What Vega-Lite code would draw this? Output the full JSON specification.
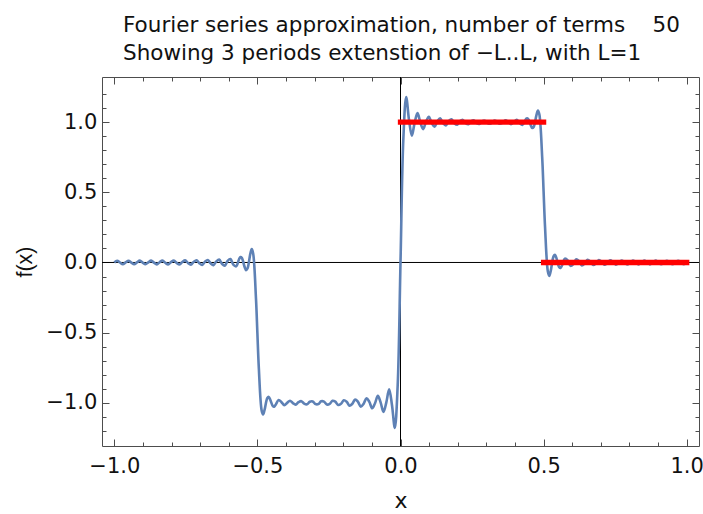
{
  "$schema": "https://vega.github.io/schema/vega-lite/v6.json",
  "width": 597,
  "height": 369,
  "autosize": "none",
  "padding": {"left": 102, "top": 77, "right": 4, "bottom": 68},
  "background": "white",
  "config": {
    "view": {"stroke": null},
    "axis": {
      "grid": false,
      "domainColor": "#4d4d4d",
      "domainWidth": 1,
      "tickColor": "#4d4d4d",
      "tickWidth": 1,
      "labelFont": "DejaVu Sans",
      "labelFontSize": 21,
      "labelColor": "#111111",
      "labelOverlap": false,
      "labelFlush": false,
      "titleFont": "DejaVu Sans",
      "titleFontSize": 22,
      "titleFontWeight": "normal",
      "titleColor": "#111111"
    }
  },
  "title": {
    "text": ["Fourier series approximation, number of terms\u00a0\u00a0\u00a0\u00a050", "Showing 3 periods extenstion of \u2212L..L, with L=1"],
    "font": "DejaVu Sans",
    "fontSize": 21.5,
    "fontWeight": "normal",
    "color": "#111111",
    "anchor": "start",
    "align": "left",
    "frame": "group",
    "dx": 21,
    "offset": 12,
    "lineHeight": 28
  },
  "resolve": {"axis": {"x": "independent", "y": "independent"}},
  "layer": [
    {
      "data": {"values": [{"x": 0}]},
      "mark": {"type": "rule", "color": "black", "strokeWidth": 1},
      "encoding": {
        "x": {"field": "x", "type": "quantitative", "scale": {"domain": [-1.043, 1.043], "nice": false, "zero": false}, "axis": null}
      }
    },
    {
      "data": {"values": [{"y": 0}]},
      "mark": {"type": "rule", "color": "black", "strokeWidth": 1},
      "encoding": {
        "y": {"field": "y", "type": "quantitative", "scale": {"domain": [-1.308, 1.322], "nice": false, "zero": false}, "axis": null}
      }
    },
    {
      "data": {"values": [
        {"x": -1, "y": 0}, {"x": -0.9901, "y": 0.0126}, {"x": -0.9802, "y": -0.0002}, {"x": -0.9703, "y": -0.0126},
        {"x": -0.9604, "y": 0.0004}, {"x": -0.9505, "y": 0.0127}, {"x": -0.9406, "y": -0.0006}, {"x": -0.9307, "y": -0.0128},
        {"x": -0.9208, "y": 0.0008}, {"x": -0.9109, "y": 0.0129}, {"x": -0.901, "y": -0.001}, {"x": -0.8911, "y": -0.013},
        {"x": -0.8812, "y": 0.0013}, {"x": -0.8713, "y": 0.0132}, {"x": -0.8614, "y": -0.0015}, {"x": -0.8515, "y": -0.0133},
        {"x": -0.8416, "y": 0.0018}, {"x": -0.8317, "y": 0.0136}, {"x": -0.8218, "y": -0.0021}, {"x": -0.8119, "y": -0.0139},
        {"x": -0.802, "y": 0.0024}, {"x": -0.7921, "y": 0.0142}, {"x": -0.7822, "y": -0.0027}, {"x": -0.7723, "y": -0.0146},
        {"x": -0.7624, "y": 0.0031}, {"x": -0.7525, "y": 0.015}, {"x": -0.7426, "y": -0.0036}, {"x": -0.7327, "y": -0.0155},
        {"x": -0.7228, "y": 0.0041}, {"x": -0.7129, "y": 0.0162}, {"x": -0.703, "y": -0.0048}, {"x": -0.6931, "y": -0.0169},
        {"x": -0.6832, "y": 0.0055}, {"x": -0.6733, "y": 0.0178}, {"x": -0.6634, "y": -0.0065}, {"x": -0.6535, "y": -0.019},
        {"x": -0.6436, "y": 0.0077}, {"x": -0.6337, "y": 0.0205}, {"x": -0.6238, "y": -0.0093}, {"x": -0.6139, "y": -0.0225},
        {"x": -0.604, "y": 0.0114}, {"x": -0.5941, "y": 0.024}, {"x": -0.5842, "y": -0.0157}, {"x": -0.5743, "y": -0.0276},
        {"x": -0.5644, "y": 0.0214}, {"x": -0.5594, "y": 0.0389}, {"x": -0.5545, "y": 0.0331}, {"x": -0.5446, "y": -0.0326},
        {"x": -0.5396, "y": -0.0545}, {"x": -0.5347, "y": -0.0431}, {"x": -0.5248, "y": 0.0617}, {"x": -0.5198, "y": 0.0956},
        {"x": -0.5149, "y": 0.0647}, {"x": -0.505, "y": -0.2562}, {"x": -0.5, "y": -0.5063}, {"x": -0.495, "y": -0.7528},
        {"x": -0.4851, "y": -1.056}, {"x": -0.4802, "y": -1.083}, {"x": -0.4752, "y": -1.0524}, {"x": -0.4653, "y": -0.9654},
        {"x": -0.4604, "y": -0.9582}, {"x": -0.4554, "y": -0.977}, {"x": -0.4455, "y": -1.0248}, {"x": -0.4406, "y": -1.0261},
        {"x": -0.4356, "y": -1.0115}, {"x": -0.4257, "y": -0.9805}, {"x": -0.4158, "y": -0.9957}, {"x": -0.4059, "y": -1.0174},
        {"x": -0.396, "y": -1.0006}, {"x": -0.3861, "y": -0.9853}, {"x": -0.3762, "y": -1.002}, {"x": -0.3663, "y": -1.013},
        {"x": -0.3564, "y": -0.9958}, {"x": -0.3465, "y": -0.9884}, {"x": -0.3366, "y": -1.006}, {"x": -0.3267, "y": -1.0106},
        {"x": -0.3168, "y": -0.9923}, {"x": -0.3069, "y": -0.9902}, {"x": -0.297, "y": -1.0092}, {"x": -0.2871, "y": -1.0092},
        {"x": -0.2772, "y": -0.9892}, {"x": -0.2673, "y": -0.9914}, {"x": -0.2574, "y": -1.0124}, {"x": -0.2475, "y": -1.0082},
        {"x": -0.2376, "y": -0.9858}, {"x": -0.2277, "y": -0.9922}, {"x": -0.2178, "y": -1.0161}, {"x": -0.2079, "y": -1.0075},
        {"x": -0.198, "y": -0.9818}, {"x": -0.1881, "y": -0.9927}, {"x": -0.1782, "y": -1.0208}, {"x": -0.1683, "y": -1.007},
        {"x": -0.1584, "y": -0.9762}, {"x": -0.1485, "y": -0.9931}, {"x": -0.1386, "y": -1.0277}, {"x": -0.1287, "y": -1.0067},
        {"x": -0.1188, "y": -0.9673}, {"x": -0.1089, "y": -0.9934}, {"x": -0.099, "y": -1.0392}, {"x": -0.0891, "y": -1.0035},
        {"x": -0.0792, "y": -0.9508}, {"x": -0.0693, "y": -0.9986}, {"x": -0.0594, "y": -1.0656}, {"x": -0.0495, "y": -0.9971},
        {"x": -0.0396, "y": -0.9033}, {"x": -0.0297, "y": -1.0176}, {"x": -0.0198, "y": -1.1788}, {"x": -0.0099, "y": -0.879},
        {"x": 0, "y": 0},
        {"x": 0.0099, "y": 0.879}, {"x": 0.0198, "y": 1.1788}, {"x": 0.0297, "y": 1.0176}, {"x": 0.0396, "y": 0.9033},
        {"x": 0.0495, "y": 0.9971}, {"x": 0.0594, "y": 1.0656}, {"x": 0.0693, "y": 0.9986}, {"x": 0.0792, "y": 0.9508},
        {"x": 0.0891, "y": 1.0035}, {"x": 0.099, "y": 1.0392}, {"x": 0.1089, "y": 0.9934}, {"x": 0.1188, "y": 0.9673},
        {"x": 0.1287, "y": 1.0067}, {"x": 0.1386, "y": 1.0277}, {"x": 0.1485, "y": 0.9931}, {"x": 0.1584, "y": 0.9762},
        {"x": 0.1683, "y": 1.007}, {"x": 0.1782, "y": 1.0208}, {"x": 0.1881, "y": 0.9927}, {"x": 0.198, "y": 0.9818},
        {"x": 0.2079, "y": 1.0075}, {"x": 0.2178, "y": 1.0161}, {"x": 0.2277, "y": 0.9922}, {"x": 0.2376, "y": 0.9858},
        {"x": 0.2475, "y": 1.0082}, {"x": 0.2574, "y": 1.0124}, {"x": 0.2673, "y": 0.9914}, {"x": 0.2772, "y": 0.9892},
        {"x": 0.2871, "y": 1.0092}, {"x": 0.297, "y": 1.0092}, {"x": 0.3069, "y": 0.9902}, {"x": 0.3168, "y": 0.9923},
        {"x": 0.3267, "y": 1.0106}, {"x": 0.3366, "y": 1.006}, {"x": 0.3465, "y": 0.9884}, {"x": 0.3564, "y": 0.9958},
        {"x": 0.3663, "y": 1.013}, {"x": 0.3762, "y": 1.002}, {"x": 0.3861, "y": 0.9853}, {"x": 0.396, "y": 1.0006},
        {"x": 0.4059, "y": 1.0174}, {"x": 0.4158, "y": 0.9957}, {"x": 0.4257, "y": 0.9805}, {"x": 0.4356, "y": 1.0115},
        {"x": 0.4406, "y": 1.0261}, {"x": 0.4455, "y": 1.0248}, {"x": 0.4554, "y": 0.977}, {"x": 0.4604, "y": 0.9582},
        {"x": 0.4653, "y": 0.9654}, {"x": 0.4752, "y": 1.0524}, {"x": 0.4802, "y": 1.083}, {"x": 0.4851, "y": 1.056},
        {"x": 0.495, "y": 0.7528}, {"x": 0.5, "y": 0.5063}, {"x": 0.505, "y": 0.2562}, {"x": 0.5149, "y": -0.0647},
        {"x": 0.5198, "y": -0.0956}, {"x": 0.5248, "y": -0.0617}, {"x": 0.5347, "y": 0.0431}, {"x": 0.5396, "y": 0.0545},
        {"x": 0.5446, "y": 0.0326}, {"x": 0.5545, "y": -0.0331}, {"x": 0.5594, "y": -0.0389}, {"x": 0.5644, "y": -0.0214},
        {"x": 0.5743, "y": 0.0276}, {"x": 0.5842, "y": 0.0157}, {"x": 0.5941, "y": -0.024}, {"x": 0.604, "y": -0.0114},
        {"x": 0.6139, "y": 0.0225}, {"x": 0.6238, "y": 0.0093}, {"x": 0.6337, "y": -0.0205}, {"x": 0.6436, "y": -0.0077},
        {"x": 0.6535, "y": 0.019}, {"x": 0.6634, "y": 0.0065}, {"x": 0.6733, "y": -0.0178}, {"x": 0.6832, "y": -0.0055},
        {"x": 0.6931, "y": 0.0169}, {"x": 0.703, "y": 0.0048}, {"x": 0.7129, "y": -0.0162}, {"x": 0.7228, "y": -0.0041},
        {"x": 0.7327, "y": 0.0155}, {"x": 0.7426, "y": 0.0036}, {"x": 0.7525, "y": -0.015}, {"x": 0.7624, "y": -0.0031},
        {"x": 0.7723, "y": 0.0146}, {"x": 0.7822, "y": 0.0027}, {"x": 0.7921, "y": -0.0142}, {"x": 0.802, "y": -0.0024},
        {"x": 0.8119, "y": 0.0139}, {"x": 0.8218, "y": 0.0021}, {"x": 0.8317, "y": -0.0136}, {"x": 0.8416, "y": -0.0018},
        {"x": 0.8515, "y": 0.0133}, {"x": 0.8614, "y": 0.0015}, {"x": 0.8713, "y": -0.0132}, {"x": 0.8812, "y": -0.0013},
        {"x": 0.8911, "y": 0.013}, {"x": 0.901, "y": 0.001}, {"x": 0.9109, "y": -0.0129}, {"x": 0.9208, "y": -0.0008},
        {"x": 0.9307, "y": 0.0128}, {"x": 0.9406, "y": 0.0006}, {"x": 0.9505, "y": -0.0127}, {"x": 0.9604, "y": -0.0004},
        {"x": 0.9703, "y": 0.0126}, {"x": 0.9802, "y": 0.0002}, {"x": 0.9901, "y": -0.0126}, {"x": 1, "y": 0}
      ]},
      "mark": {"type": "line", "color": "#5e81b5", "strokeWidth": 2.6, "interpolate": "catmull-rom"},
      "encoding": {
        "x": {"field": "x", "type": "quantitative", "scale": {"domain": [-1.043, 1.043], "nice": false, "zero": false},
          "axis": {"orient": "bottom", "title": "x", "titleY": 44,
            "values": [-1,-0.9,-0.8,-0.7,-0.6,-0.5,-0.4,-0.3,-0.2,-0.1,0,0.1,0.2,0.3,0.4,0.5,0.6,0.7,0.8,0.9,1],
            "tickSize": {"condition": {"test": "abs(datum.value*2 - round(datum.value*2)) < 0.001", "value": -7}, "value": -4},
            "labelPadding": 16.9,
            "labelExpr": "abs(datum.value*2 - round(datum.value*2)) < 0.001 ? replace(format(datum.value, '.1f'), '-', '\u2212') : ''"}},
        "y": {"field": "y", "type": "quantitative", "scale": {"domain": [-1.308, 1.322], "nice": false, "zero": false},
          "axis": {"orient": "left", "title": "f(x)", "titleFont": "Liberation Sans", "titleFontSize": 21.5, "titleX": -65.3,
            "values": [-1.2,-1.1,-1,-0.9,-0.8,-0.7,-0.6,-0.5,-0.4,-0.3,-0.2,-0.1,0,0.1,0.2,0.3,0.4,0.5,0.6,0.7,0.8,0.9,1,1.1,1.2],
            "tickSize": {"condition": {"test": "abs(datum.value*2 - round(datum.value*2)) < 0.001", "value": -7}, "value": -4},
            "labelPadding": 12.2,
            "labelExpr": "abs(datum.value*2 - round(datum.value*2)) < 0.001 ? replace(format(datum.value, '.1f'), '-', '\u2212') : ''"}}
      }
    },
    {
      "data": {"values": [{"x1": 0, "x2": 0.5, "y": 1}, {"x1": 0.5, "x2": 1, "y": 0}]},
      "mark": {"type": "rule", "color": "#ff0000", "strokeWidth": 5.3, "strokeCap": "square"},
      "encoding": {
        "x": {"field": "x1", "type": "quantitative", "scale": {"domain": [-1.043, 1.043], "nice": false, "zero": false},
          "axis": {"orient": "top", "title": null, "labels": false,
            "values": [-1,-0.9,-0.8,-0.7,-0.6,-0.5,-0.4,-0.3,-0.2,-0.1,0,0.1,0.2,0.3,0.4,0.5,0.6,0.7,0.8,0.9,1],
            "tickSize": {"condition": {"test": "abs(datum.value*2 - round(datum.value*2)) < 0.001", "value": -7}, "value": -4}}},
        "x2": {"field": "x2"},
        "y": {"field": "y", "type": "quantitative", "scale": {"domain": [-1.308, 1.322], "nice": false, "zero": false},
          "axis": {"orient": "right", "title": null, "labels": false,
            "values": [-1.2,-1.1,-1,-0.9,-0.8,-0.7,-0.6,-0.5,-0.4,-0.3,-0.2,-0.1,0,0.1,0.2,0.3,0.4,0.5,0.6,0.7,0.8,0.9,1,1.1,1.2],
            "tickSize": {"condition": {"test": "abs(datum.value*2 - round(datum.value*2)) < 0.001", "value": -7}, "value": -4}}}
      }
    }
  ]
}
